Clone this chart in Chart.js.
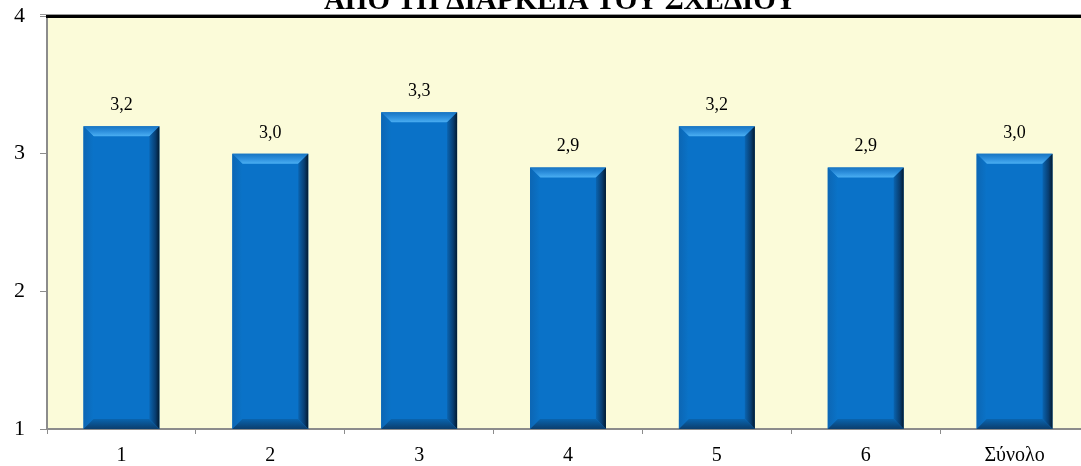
<!DOCTYPE html>
<html>
<head>
<meta charset="utf-8">
<script src="https://cdn.jsdelivr.net/npm/chart.js@4"></script>
<style>
  html, body { margin: 0; padding: 0; background: #ffffff; overflow: hidden; }
  #wrap { position: absolute; left: 0; top: 0; width: 1100px; height: 466px; }
</style>
</head>
<body>
<div id="wrap"><canvas id="c"></canvas></div>
<script>
// Categories and mean scores
const categories = ['1', '2', '3', '4', '5', '6', 'Σύνολο'];
const scores = [3.2, 3.0, 3.3, 2.9, 3.2, 2.9, 3.0];
const yTicks = [1, 2, 3, 4];
const titleText = 'ΑΠΟ ΤΗ ΔΙΑΡΚΕΙΑ ΤΟΥ ΣΧΕΔΙΟΥ';

const SERIF = '"Liberation Serif", "Times New Roman", serif';

// Pale plot background, heavy top rule and the title above it
const plotFrame = {
  id: 'plotFrame',
  beforeDraw(chart) {
    const { ctx, chartArea: a } = chart;
    ctx.save();
    ctx.fillStyle = '#FBFBD9';
    ctx.fillRect(a.left, a.top, a.right - a.left, a.bottom - a.top);
    ctx.restore();
  },
  afterDraw(chart) {
    const { ctx, chartArea: a } = chart;
    ctx.save();
    ctx.fillStyle = '#9a9a9a';
    ctx.fillRect(a.left - 7, a.top - 2, a.right - a.left + 7, 1);
    ctx.fillStyle = '#000000';
    ctx.fillRect(a.left - 1, a.top - 1, a.right - a.left + 1, 3);
    ctx.font = 'bold 29px ' + SERIF;
    ctx.fillStyle = '#000000';
    ctx.textAlign = 'center';
    ctx.textBaseline = 'alphabetic';
    ctx.fillText(titleText, 560, a.top - 7);
    ctx.restore();
  }
};

// Bevelled bar faces and value labels
const bevelBars = {
  id: 'bevelBars',
  afterDatasetsDraw(chart) {
    const { ctx, chartArea: a } = chart;
    const meta = chart.getDatasetMeta(0);
    meta.data.forEach((bar, i) => {
      const w = bar.width;
      const L = bar.x - w / 2, R = bar.x + w / 2, T = bar.y, B = Math.min(bar.base, a.bottom);
      const b = 10;
      ctx.save();
      // top face
      let g = ctx.createLinearGradient(0, T, 0, T + b);
      g.addColorStop(0, '#1774C2');
      g.addColorStop(0.5, '#2C8EDC');
      g.addColorStop(1, '#4AAEF2');
      ctx.fillStyle = g;
      ctx.beginPath();
      ctx.moveTo(L, T); ctx.lineTo(R, T); ctx.lineTo(R - b, T + b); ctx.lineTo(L + b, T + b);
      ctx.closePath(); ctx.fill();
      // left face
      g = ctx.createLinearGradient(L, 0, L + b, 0);
      g.addColorStop(0, '#0C66B4');
      g.addColorStop(1, '#0A73C8');
      ctx.fillStyle = g;
      ctx.beginPath();
      ctx.moveTo(L, T); ctx.lineTo(L + b, T + b); ctx.lineTo(L + b, B - b); ctx.lineTo(L, B);
      ctx.closePath(); ctx.fill();
      // right face
      g = ctx.createLinearGradient(R - b, 0, R, 0);
      g.addColorStop(0, '#0A64B0');
      g.addColorStop(0.6, '#083E72');
      g.addColorStop(1, '#021A30');
      ctx.fillStyle = g;
      ctx.beginPath();
      ctx.moveTo(R, T); ctx.lineTo(R, B); ctx.lineTo(R - b, B - b); ctx.lineTo(R - b, T + b);
      ctx.closePath(); ctx.fill();
      // bottom face
      g = ctx.createLinearGradient(0, B - b, 0, B);
      g.addColorStop(0, '#0A64AE');
      g.addColorStop(1, '#0B3E6E');
      ctx.fillStyle = g;
      ctx.beginPath();
      ctx.moveTo(L, B); ctx.lineTo(R, B); ctx.lineTo(R - b, B - b); ctx.lineTo(L + b, B - b);
      ctx.closePath(); ctx.fill();
      // value label
      ctx.font = '18px ' + SERIF;
      ctx.fillStyle = '#000000';
      ctx.textAlign = 'center';
      ctx.textBaseline = 'alphabetic';
      ctx.fillText(scores[i].toFixed(1).replace('.', ','), bar.x, T - 16);
      ctx.restore();
    });
  }
};

new Chart(document.getElementById('c'), {
  type: 'bar',
  data: {
    labels: categories,
    datasets: [{
      data: scores,
      backgroundColor: '#0A72C8',
      borderWidth: 0,
      categoryPercentage: 1,
      barPercentage: 0.51
    }]
  },
  options: {
    responsive: true,
    maintainAspectRatio: false,
    animation: false,
    layout: { padding: { top: 16, right: 11, left: 0, bottom: 0 } },
    plugins: { legend: { display: false }, tooltip: { enabled: false }, title: { display: false } },
    scales: {
      x: {
        grid: { offset: true, drawOnChartArea: false, drawTicks: true, tickLength: 5, color: '#8c8c8c', lineWidth: 1 },
        border: { color: '#8c8c8c', width: 2 },
        ticks: { font: { family: SERIF, size: 20 }, color: '#000000', padding: 10, maxRotation: 0 },
        afterFit(scale) { scale.height = 37; scale.paddingLeft = 0; scale.paddingRight = 0; }
      },
      y: {
        min: 1,
        max: 4,
        afterBuildTicks(scale) { scale.ticks = yTicks.map(v => ({ value: v })); },
        grid: { drawOnChartArea: false, drawTicks: true, tickLength: 7, color: '#8c8c8c', lineWidth: 1 },
        border: { color: '#8c8c8c', width: 2 },
        ticks: { font: { family: SERIF, size: 22 }, color: '#000000', padding: 15 },
        afterFit(scale) { scale.width = 47; scale.paddingTop = 0; scale.paddingBottom = 0; }
      }
    }
  },
  plugins: [plotFrame, bevelBars]
});
</script>
</body>
</html>
